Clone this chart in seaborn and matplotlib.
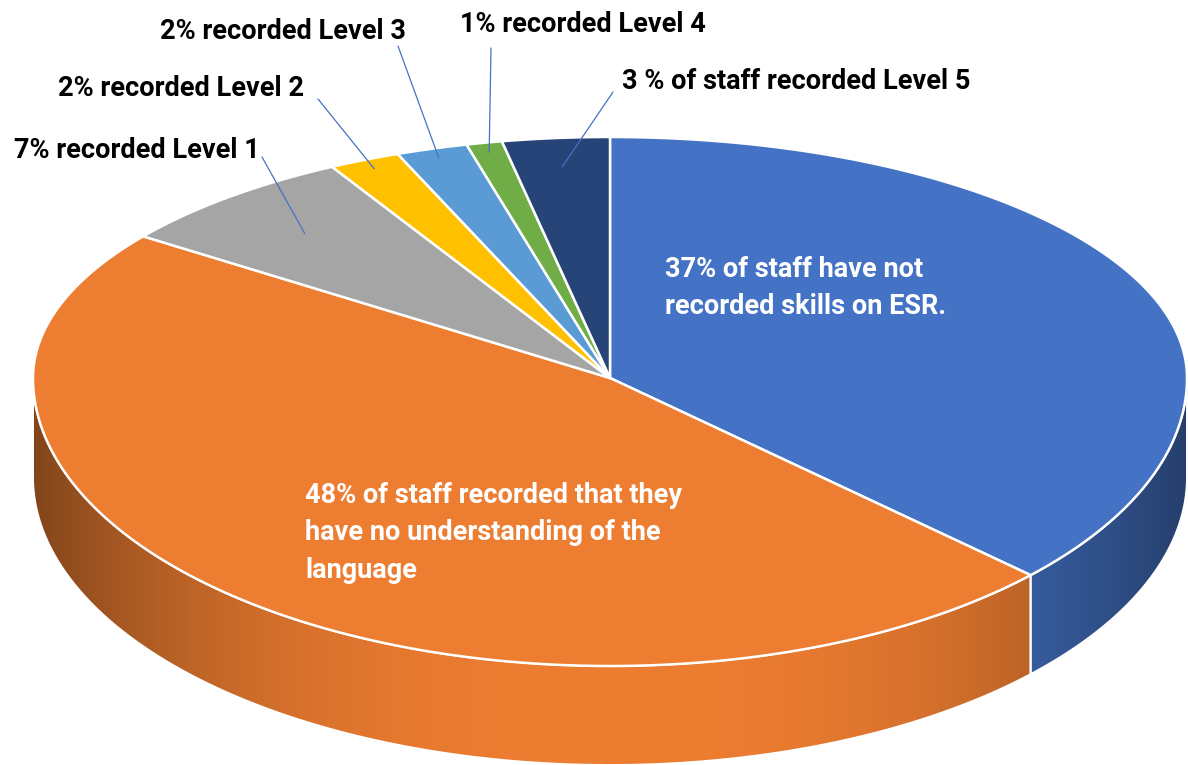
import numpy as np
import matplotlib
matplotlib.use("Agg")
import matplotlib.pyplot as plt
from matplotlib.patches import Polygon
from matplotlib.colors import to_rgb
import seaborn as sns

# ---- data -------------------------------------------------------------
categories = ["Not recorded", "No understanding", "Level 1", "Level 2",
              "Level 3", "Level 4", "Level 5"]
shares = [37, 48, 7, 2, 2, 1, 3]
slice_colors = ["#4472C4", "#ED7D31", "#A5A5A5", "#FFC000",
                "#5B9BD5", "#70AD47", "#264478"]

inner_labels = {
    "Not recorded": "37% of staff have not\nrecorded skills on ESR.",
    "No understanding": "48% of staff recorded that they\nhave no understanding of the\nlanguage",
}
outer_labels = {
    "Level 1": "7% recorded Level 1",
    "Level 2": "2% recorded Level 2",
    "Level 3": "2% recorded Level 3",
    "Level 4": "1% recorded Level 4",
    "Level 5": "3 % of staff recorded Level 5",
}

# ---- style ------------------------------------------------------------
sns.set_theme(style="white")
plt.rcParams["font.family"] = ["Roboto", "DejaVu Sans"]

W, H = 1188, 765
fig = plt.figure(figsize=(W / 100, H / 100), dpi=100)
ax = fig.add_axes([0, 0, 1, 1])
ax.set_xlim(0, W)
ax.set_ylim(H, 0)
ax.axis("off")

# tilted-disc geometry (screen units)
CX, CY = 610, 378
RX = 577
RY_BACK, RY_FRONT = 241, 288
DEPTH = 99


def rim(frac):
    """Point on the top rim for a clockwise fraction measured from 12 o'clock."""
    t = np.deg2rad(90 - 360 * np.asarray(frac, dtype=float))
    s = np.sin(t)
    ry = np.where(s > 0, RY_BACK, RY_FRONT)
    return CX + RX * np.cos(t), CY - ry * s


def shade(x):
    r = np.clip(np.abs(x - CX) / RX, 0, 1)
    return 1 - 0.45 * r ** 2.5


total = float(sum(shares))
bounds = np.concatenate([[0], np.cumsum(shares) / total])

# ---- side wall (front half only) -------------------------------------
for i, col in enumerate(slice_colors):
    f0, f1 = max(bounds[i], 0.25), min(bounds[i + 1], 0.75)
    if f1 <= f0:
        continue
    fr = np.linspace(f0, f1, 300)
    xs, ys = rim(fr)
    poly_xy = np.column_stack([np.concatenate([xs, xs[::-1]]),
                               np.concatenate([ys, ys[::-1] + DEPTH])])
    side = Polygon(poly_xy, closed=True, facecolor="none",
                   edgecolor="white", linewidth=1.4, zorder=2)
    ax.add_patch(side)
    x0, x1 = xs.min(), xs.max()
    gx = np.linspace(x0, x1, 400)
    base = np.array(to_rgb(col))
    img = np.clip(shade(gx)[:, None] * base[None, :], 0, 1)[None, :, :]
    im = ax.imshow(img, extent=(x0, x1, ys.max() + DEPTH + 2, ys.min() - 2),
                   aspect="auto", interpolation="bilinear", zorder=1)
    im.set_clip_path(side)

# ---- top face --------------------------------------------------------
for i, col in enumerate(slice_colors):
    fr = np.linspace(bounds[i], bounds[i + 1], 300)
    xs, ys = rim(fr)
    pts = np.column_stack([np.concatenate([[CX], xs]),
                           np.concatenate([[CY], ys])])
    ax.add_patch(Polygon(pts, closed=True, facecolor=col, edgecolor="white",
                         linewidth=1.8, joinstyle="round", zorder=3))

# ---- labels ----------------------------------------------------------
FS = 19.5
ax.text(665, 288, inner_labels["Not recorded"], color="white",
        fontsize=FS, fontweight="bold", ha="left", va="center",
        linespacing=1.5, zorder=5)
ax.text(305, 533, inner_labels["No understanding"], color="white",
        fontsize=FS, fontweight="bold", ha="left", va="center",
        linespacing=1.5, zorder=5)

# text anchor, leader start, and how far out along the slice the leader ends
label_pos = {
    "Level 1": (14, 150),
    "Level 2": (58, 88),
    "Level 3": (160, 31),
    "Level 4": (460, 24),
    "Level 5": (622, 81),
}
leader_start = {
    "Level 1": (262, 157),
    "Level 2": (318, 99),
    "Level 3": (398, 46),
    "Level 4": (491, 48),
    "Level 5": (613, 92),
}
leader_reach = {"Level 1": 0.8, "Level 2": 0.96, "Level 3": 0.96,
                "Level 4": 0.96, "Level 5": 0.88}

for key, txt in outer_labels.items():
    x, y = label_pos[key]
    ax.text(x, y, txt, color="black", fontsize=FS, fontweight="bold",
            ha="left", va="center", zorder=5)
    k = categories.index(key)
    mx, my = rim(0.5 * (bounds[k] + bounds[k + 1]))
    r = leader_reach[key]
    ex, ey = CX + r * (mx - CX), CY + r * (my - CY)
    sx, sy = leader_start[key]
    ax.plot([sx, ex], [sy, ey], color="#4472C4", linewidth=0.9, zorder=6)

fig.savefig("out.png", dpi=100, facecolor="white")
